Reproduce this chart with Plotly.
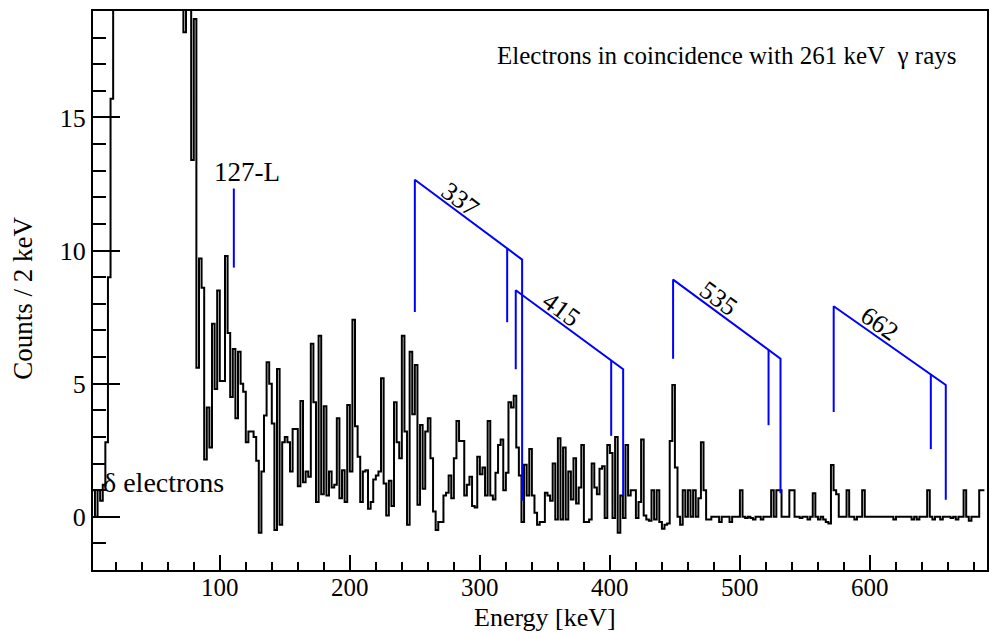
import math
import plotly.graph_objects as go

# ---------------- data (2 keV bins, value per bin, listed from a start energy) ----------------
BIN_WIDTH = 2.0

start_a = 2
counts_a = [1.0, 0.0, 1.0, 0.6, 1.2, 2.8, 9.0, 15.7]

start_b = 18  # off-scale part (above the frame)
counts_b = [21.5, 26, 31, 36, 40, 43, 45, 46, 46, 45, 44, 42, 40, 38, 36, 34, 32, 30,
            28, 27, 26, 25, 24, 23, 22, 21, 20.5]

start_c = 72
counts_c = [18.2, 22, 20, 13.4, 18.7, 5.6]

start_d = 84
counts_d = [9.7, 8.6, 2.15, 4.1, 2.6, 7.25, 4.8, 8.5, 5.1, 5.1, 9.8, 6.9, 4.5, 6.3, 3.7, 6.2,
            5.0, 4.7, 2.8, 3.2, 3.2, 3.0, 2.1, -0.6, 1.7, 3.8, 5.8, 5.0, 3.5, -0.5, 5.55, -0.3,
            2.8, 3.0, 2.8, 1.7, 3.3, 3.3, 1.15, 4.35, 1.3, 1.7, 1.5, 6.5, 4.3, 0.55, 6.8, 0.85,
            4.15, 0.8, 1.7, 1.1, 1.2, 3.7, 0.7, 1.75, 0.55, 4.2, 1.7, 7.4, 3.4, 2.25, 0.55, 1.7,
            1.75, 0.3, 0.55, 1.4, 1.55, 1.7, 5.2, 1.25, 0.05]

start_e = 230
counts_e = [1.35, 0.4, 4.3, 2.8, 2.2, 6.8, 3.2, -0.3, 6.2, 3.85, 5.7, 0.45, 3.45, 1.05, 3.2,
            3.7, 2.2, 0.2, -0.5, -0.2, -0.2, 0.8, 0.9, 1.55, 0.7, 2.2, 3.6, 2.85, 2.85, 0.8,
            1.2, 1.5, 0.4, 0.35, 2.25, 1.6, 1.85, 0.8, 3.6, 0.8, 0.65, 1.65, 2.7, 2.9, 1.0,
            1.65, 4.3, 4.1, 4.55, 2.6, 1.55, -0.2, 1.95, 0.8, 2.55, 0.8, 0.15, -0.3, -0.2,
            -0.2, 0.9, 0.8, 0.6, 2.0, -0.1, 2.95, -0.1, 2.6, -0.1, 1.7, 0.65, 2.2, 0.5, 1.1,
            2.7, -0.2, -0.2, -0.1, 2.0, 1.1, 0.85, 1.8, 1.9, -0.05, 2.7, 2.4, -0.05, 3.0, -0.6,
            0.8, -0.05, 2.7, 0.8, 1.0, 1.0, -0.05, 0.55, 2.9, 0.05, -0.1, -0.15, 1.0, -0.1,
            1.0, -0.2, -0.45, -0.3, -0.25, 2.85, 4.95, 1.85, 0.0, -0.3, 1.0, 0.0]

start_f = 460
counts_f = [1.0, 0.0, 1.0, 0.0, 0.7, 2.8, 1.0, -0.1, -0.1, 0.0, 0.0, 0.0, -0.2, 0.0, 0.0, 0.0,
            -0.2, 0.0, 0.0, 0.0, 1.0, 0.0, -0.05, 0.0, -0.05, -0.1, 0.0, 0.0, -0.1, 0.0, 0.0,
            0.0, 1.0, 0.0, 1.0, 1.0, 0.0, 0.0, 0.0, 1.0, 1.0, 0.0, 0.0, -0.05, 0.0, 0.0, -0.1,
            0.0, 0.88, 0.0, -0.1, 0.0, -0.1, -0.2, -0.25, 1.94, 1.0, 0.85, 0.0, 0.0, 0.0, 1.0,
            0.0, 0.0, -0.1, 0.0, 0.0, 1.0, 0.0, 0.0, 0.0, 0.0, 0.0, 0.0, 0.0, 0.0, 0.0, 0.0,
            0.0, -0.1, 0.0, 0.0, 0.0, 0.0, 0.0, 0.0, -0.1, 0.0, -0.1, 0.0, 0.0, 0.0, 1.0, 0.0,
            -0.1, 0.0, 0.0, -0.1, 0.0, 0.0, 0.0, -0.05, 0.0, -0.1, 0.0, 0.0, 1.0, 0.0, -0.15,
            0.0, 0.0, 0.0, 1.0, 1.0]

# conversion-line brackets (transition label, K / L / M line energies and heights)
bracket_labels = ["337", "415", "535", "662"]
k_energy = [250.0, 327.6, 448.6, 572.1]
l_energy = [321.0, 401.0, 522.0, 646.8]
m_energy = [332.5, 410.2, 531.2, 658.3]
k_top = [12.66, 8.51, 8.91, 7.91]
m_top = [9.66, 5.54, 5.94, 4.95]
k_bottom = [7.69, 5.54, 5.94, 3.94]
l_bottom = [7.31, 3.04, 3.44, 2.54]
m_bottom = [0.60, 0.79, 0.88, 0.64]

single_label = "127-L"
single_energy = 110.8
single_top = 12.33
single_bottom = 9.36

x_tick_values = [100, 200, 300, 400, 500, 600]
x_tick_labels = ["100", "200", "300", "400", "500", "600"]

x_range = [2.5, 690.0]
y_range = [-2.0, 19.0]

# ---------------- build histogram step line ----------------
edges, vals = [], []
for start, arr in [(start_a, counts_a), (start_b, counts_b), (start_c, counts_c),
                   (start_d, counts_d), (start_e, counts_e), (start_f, counts_f)]:
    for i, v in enumerate(arr):
        edges.append(start + BIN_WIDTH * i)
        vals.append(v)
hx = edges + [edges[-1] + BIN_WIDTH]
hy = vals + [vals[-1]]

SERIF = "Liberation Serif"
BLUE = "#0000ff"

# plot geometry (px) used only for text rotation along bracket diagonals
L_M, R_M, T_M, B_M = 93, 1, 11, 62
W, H = 990, 632
px_per_x = (W - L_M - R_M) / (x_range[1] - x_range[0])
px_per_y = (H - T_M - B_M) / (y_range[1] - y_range[0])

fig = go.Figure()
fig.add_trace(go.Scatter(x=hx, y=hy, mode="lines",
                         line=dict(shape="hv", color="black", width=2),
                         hoverinfo="skip", showlegend=False))

bx, by = [], []
annotations = []
for lab, ke, le, me, kt, mt, kb, lb, mb in zip(bracket_labels, k_energy, l_energy, m_energy,
                                               k_top, m_top, k_bottom, l_bottom, m_bottom):
    slope = (mt - kt) / (me - ke)
    lt = kt + slope * (le - ke)
    bx += [ke, ke, me, me, None, le, le, None]
    by += [kb, kt, mt, mb, None, lt, lb, None]
    ang = math.degrees(math.atan(-slope * px_per_y / px_per_x))
    annotations.append(dict(x=ke + 35, y=kt + slope * 35 + 0.55, xref="x", yref="y", text=lab,
                            showarrow=False, textangle=ang,
                            font=dict(family=SERIF, size=26, color="black")))
bx += [single_energy, single_energy]
by += [single_bottom, single_top]
fig.add_trace(go.Scatter(x=bx, y=by, mode="lines", line=dict(color=BLUE, width=2),
                         hoverinfo="skip", showlegend=False))

for tv, tl in zip(x_tick_values, x_tick_labels):
    annotations.append(dict(x=tv, y=0, xref="x", yref="paper", text=tl, showarrow=False,
                            yanchor="middle", yshift=-17,
                            font=dict(family=SERIF, size=25, color="black")))

annotations.append(dict(x=121, y=12.95, xref="x", yref="y", text=single_label, showarrow=False,
                        font=dict(family=SERIF, size=27, color="black")))
annotations.append(dict(x=8.5, y=1.3, xref="x", yref="y", text="δ electrons", showarrow=False,
                        xanchor="left", font=dict(family=SERIF, size=28, color="black")))
annotations.append(dict(x=312.0, y=17.34, xref="x", yref="y",
                        text="Electrons in coincidence with 261 keV\u00a0\u00a0γ rays",
                        showarrow=False, xanchor="left",
                        font=dict(family=SERIF, size=25, color="black")))
annotations.append(dict(x=350, y=0, xref="x", yref="paper",
                        text="Energy [keV]", showarrow=False, yanchor="middle", yshift=-47,
                        font=dict(family=SERIF, size=26, color="black")))
annotations.append(dict(x=-0.097, y=8.2, xref="paper", yref="y", text="Counts / 2 keV",
                        showarrow=False, textangle=-90,
                        font=dict(family=SERIF, size=27, color="black")))

axis_common = dict(showline=True, linecolor="black", linewidth=2, mirror=True,
                   ticks="inside", tickcolor="black", tickwidth=2, showgrid=False,
                   zeroline=False, tickfont=dict(family=SERIF, size=26, color="black"))

fig.update_layout(
    width=W, height=H,
    margin=dict(l=L_M, r=R_M, t=T_M, b=B_M),
    paper_bgcolor="white", plot_bgcolor="white",
    xaxis=dict(range=x_range, tick0=0, dtick=100, ticklen=15, showticklabels=False,
               minor=dict(ticks="inside", dtick=20, tick0=0, ticklen=8, tickwidth=1.5,
                          tickcolor="black"),
               **axis_common),
    yaxis=dict(range=y_range, tick0=0, dtick=5, ticklen=27,
               minor=dict(ticks="inside", dtick=1, tick0=0, ticklen=13, tickwidth=1.5,
                          tickcolor="black"),
               **axis_common),
    annotations=annotations,
)

fig.write_html("out.html")
